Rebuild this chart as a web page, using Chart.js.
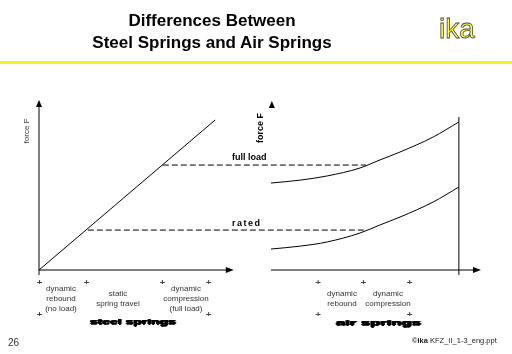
<!DOCTYPE html>
<html>
<head>
<meta charset="utf-8">
<script src="https://cdn.jsdelivr.net/npm/chart.js@4.4.1/dist/chart.umd.min.js"></script>
<style>
  html, body { margin: 0; padding: 0; background: #fff; }
  body { width: 512px; height: 354px; position: relative; overflow: hidden; font-family: "Liberation Sans", Arial, sans-serif; }
  #springs { position: absolute; left: 0; top: 0; }
  .t { position: absolute; white-space: nowrap; color: #222; }
  .title { left: 12px; width: 400px; top: 10px; text-align: center; font-weight: bold; font-size: 17px; line-height: 22px; color: #000; }
  .ika { left: 439px; top: 13px; font-size: 28px; color: #ffff40; -webkit-text-stroke: 0.8px #444; }
  .rule { position: absolute; left: 0; top: 61px; width: 512px; height: 3px; background: #f2f22a; }
  .small { font-size: 8px; line-height: 10px; text-align: center; color: #333; }
  .lbl { font-weight: bold; font-size: 9px; color: #000; }
  .blob { font-weight: bold; font-size: 9px; color: #000; transform-origin: left center; text-shadow: 0.6px 0 0 #000, -0.6px 0 0 #000, 0 0.6px 0 #000; }
</style>
</head>
<body>
<canvas id="springs" width="512" height="354"></canvas>

<div class="t title">Differences Between<br>Steel Springs and Air Springs</div>
<div class="t ika">ika</div>
<div class="rule"></div>

<div class="t" style="left:26px; top:131px; font-size:8px; color:#333; transform: translate(-50%,-50%) rotate(-90deg);">force F</div>
<div class="t lbl" style="left:260px; top:128px; transform: translate(-50%,-50%) rotate(-90deg);">force F</div>
<div class="t lbl" style="left:232px; top:152px;">full load</div>
<div class="t lbl" style="left:232px; top:218px; letter-spacing:1.5px;">rated</div>

<div class="t small" style="left:36px; width:50px; top:284px;">dynamic<br>rebound<br>(no load)</div>
<div class="t small" style="left:88px; width:60px; top:289px;">static<br>spring travel</div>
<div class="t small" style="left:156px; width:60px; top:284px;">dynamic<br>compression<br>(full load)</div>
<div class="t blob" style="left:90px; top:317px; transform: scale(1.55, 0.75);">steel springs</div>

<div class="t small" style="left:317px; width:50px; top:289px;">dynamic<br>rebound</div>
<div class="t small" style="left:360px; width:56px; top:289px;">dynamic<br>compression</div>
<div class="t blob" style="left:336px; top:318px; transform: scale(1.85, 0.75);">air springs</div>

<div class="t" style="left:8px; top:337px; font-size:10px; color:#333;">26</div>
<div class="t" style="left:412px; top:336px; font-size:7.5px; color:#222;"><b>©ika</b> KFZ_II_1-3_eng.ppt</div>

<script>
// spring travel (x) and force (y), both in % of the diagram range
var steelTravel = [0, 40.4];
var steelForce = [0, 90.9];

var airTravel = [53.2, 60, 66.1, 73.6, 78.2, 82.8, 90.4, 96.3];
var airFullForce = [52.7, 54.5, 57, 61.8, 66.7, 71.5, 80.6, 89.7];
var airRatedForce = [12.7, 14.5, 17, 22.4, 27.3, 32.1, 41.2, 50.3];

var fullLoadTravel = [28.4, 75];
var fullLoadForce = [63.6, 63.6];
var ratedTravel = [11.2, 75];
var ratedForce = [24.2, 24.2];

// marker positions under the axes (travel values)
var steelMarks = [0, 10.8, 28.2, 38.8];
var airMarks = [63.9, 74.3, 84.9];

function pts(xs, ys) {
    return xs.map(function(x, i) { return {x: x, y: ys[i]}; });
}

function line(data, extra) {
    var ds = {
        data: data,
        borderColor: '#000',
        borderWidth: 1,
        pointRadius: 0,
        fill: false,
        clip: false,
        tension: 0
    };
    for (var k in extra) ds[k] = extra[k];
    return ds;
}

var arrows = {
    id: 'arrows',
    afterDatasetsDraw: function(chart) {
        var c = chart.ctx;
        var xs = chart.scales.x, ys = chart.scales.y;
        function head(x, y, dir) {
            var px = xs.getPixelForValue(x), py = ys.getPixelForValue(y);
            c.save();
            c.fillStyle = '#000';
            c.beginPath();
            if (dir === 'up') {
                c.moveTo(px, py - 5); c.lineTo(px - 3, py + 2); c.lineTo(px + 3, py + 2);
            } else {
                c.moveTo(px + 6, py); c.lineTo(px - 2, py - 3); c.lineTo(px - 2, py + 3);
            }
            c.closePath();
            c.fill();
            c.restore();
        }
        head(0, 100, 'up');
        head(43.3, 0, 'right');
        head(53.4, 99.4, 'up');
        head(100, 0, 'right');

        function mark(x, py) {
            var px = xs.getPixelForValue(x);
            c.save();
            c.strokeStyle = '#444';
            c.lineWidth = 1;
            c.beginPath();
            c.moveTo(px + 0.5, py - 2); c.lineTo(px + 0.5, py + 2);
            c.moveTo(px - 2, py + 0.5); c.lineTo(px + 3, py + 0.5);
            c.stroke();
            c.restore();
        }
        steelMarks.forEach(function(m) { mark(m, 282); });
        [steelMarks[0], steelMarks[3]].forEach(function(m) { mark(m, 314); });
        airMarks.forEach(function(m) { mark(m, 282); });
        [airMarks[0], airMarks[2]].forEach(function(m) { mark(m, 314); });
    }
};

var ctx = document.getElementById('springs');

var springChart = new Chart(ctx, {
    type: 'line',
    data: {
        datasets: [
            line(pts(steelTravel, steelForce)),
            line(pts(airTravel, airFullForce), {cubicInterpolationMode: 'monotone'}),
            line(pts(airTravel, airRatedForce), {cubicInterpolationMode: 'monotone'}),
            line(pts(fullLoadTravel, fullLoadForce), {borderDash: [6, 3]}),
            line(pts(ratedTravel, ratedForce), {borderDash: [6, 3]}),
            // axes
            line(pts([0, 0], [-3, 100])),
            line(pts([0, 43.3], [0, 0])),
            line(pts([53.2, 100], [0, 0])),
            line(pts([96.3, 96.3], [-3, 92.7]))
        ]
    },
    options: {
        responsive: false,
        animation: false,
        devicePixelRatio: 1,
        layout: {padding: {left: 39, right: 37, top: 105, bottom: 84}},
        plugins: {legend: {display: false}, tooltip: {enabled: false}},
        scales: {
            x: {type: 'linear', min: 0, max: 100, display: false},
            y: {type: 'linear', min: 0, max: 100, display: false}
        }
    },
    plugins: [arrows]
});
</script>
</body>
</html>
